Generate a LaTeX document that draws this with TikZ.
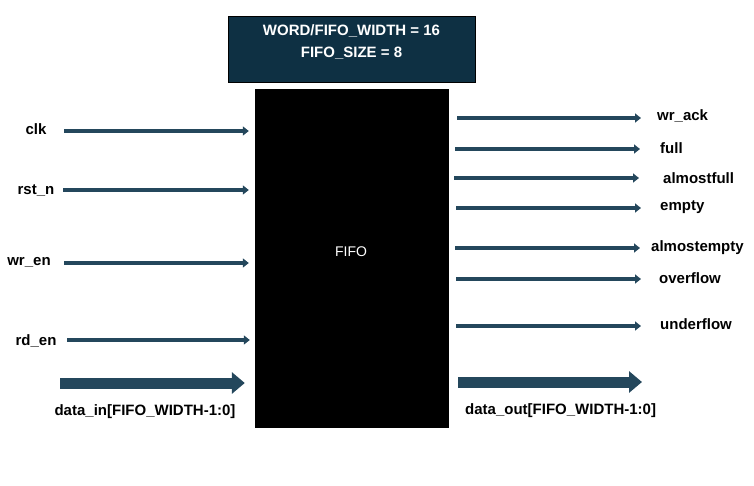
\documentclass[tikz,border=0pt]{standalone}
\usepackage{fontspec}
\setmainfont{Liberation Sans}
\usetikzlibrary{arrows.meta}
\definecolor{paramfill}{HTML}{0E3043}
\definecolor{sigblue}{HTML}{24475C}
\begin{document}
\begin{tikzpicture}[x=1pt, y=-1pt,
    sig/.style={line width=3.5pt, draw=sigblue, -{Triangle[length=6pt,width=9pt]}},
    bus/.style={line width=11pt, draw=sigblue, -{Triangle[length=13pt,width=21pt]}},
    lbl/.style={font=\bfseries\fontsize{15}{17}\selectfont, inner sep=0pt}]
    \useasboundingbox (0,0) rectangle (754,485);

    % parameter box and FIFO block
    \node[draw=black, fill=paramfill, minimum width=247pt, minimum height=66pt, inner sep=0pt] (params) at (351.5,49) {};
    \node[lbl, text=white, align=center] (paramtext) at (351.5,42) {WORD/FIFO\_WIDTH = 16\\[5pt]FIFO\_SIZE = 8};

    \node[fill=black, minimum width=194pt, minimum height=339pt, inner sep=0pt] (fifo) at (352,258.5) {};
    \node[text=white, font=\fontsize{14}{16}\selectfont] (fifoname) at (351,252) {FIFO};

    % inputs
    \node[lbl] (clk) at (36,129) {clk};
    \node[lbl] (rstn) at (36,191) {rst\_n};
    \node[lbl] (wren) at (29,262) {wr\_en};
    \node[lbl] (rden) at (36,341) {rd\_en};
    \node[lbl] (datain) at (145,412) {data\_in[FIFO\_WIDTH-1:0]};

    \coordinate (clkA) at (64,131);
    \coordinate (rstnA) at (63,190);
    \coordinate (wrenA) at (64,263);
    \coordinate (rdenA) at (67,340);
    \coordinate (datainA) at (60,383);

    \draw[sig] (clkA) -- ([xshift=-6pt]fifo.west |- clkA);
    \draw[sig] (rstnA) -- ([xshift=-6pt]fifo.west |- rstnA);
    \draw[sig] (wrenA) -- ([xshift=-6pt]fifo.west |- wrenA);
    \draw[sig] (rdenA) -- ([xshift=-5pt]fifo.west |- rdenA);
    \draw[bus] (datainA) -- ([xshift=-10pt]fifo.west |- datainA);

    % outputs
    \node[lbl, anchor=west] (wrack) at (657,116) {wr\_ack};
    \node[lbl, anchor=west] (full) at (660,148) {full};
    \node[lbl, anchor=west] (afull) at (663,178) {almostfull};
    \node[lbl, anchor=west] (empty) at (660,207) {empty};
    \node[lbl, anchor=west] (aempty) at (651,248) {almostempty};
    \node[lbl, anchor=west] (ovf) at (659,278) {overflow};
    \node[lbl, anchor=west] (unf) at (660,324) {underflow};
    \node[lbl, anchor=west] (dataout) at (465,411) {data\_out[FIFO\_WIDTH-1:0]};

    \coordinate (wrackB) at (641,118);
    \coordinate (fullB) at (640,149);
    \coordinate (afullB) at (639,178);
    \coordinate (emptyB) at (641,208);
    \coordinate (aemptyB) at (640,248);
    \coordinate (ovfB) at (641,279);
    \coordinate (unfB) at (641,326);
    \coordinate (dataoutB) at (642,382);

    \draw[sig] ([xshift=8pt]fifo.east |- wrackB) -- (wrackB);
    \draw[sig] ([xshift=6pt]fifo.east |- fullB) -- (fullB);
    \draw[sig] ([xshift=5pt]fifo.east |- afullB) -- (afullB);
    \draw[sig] ([xshift=7pt]fifo.east |- emptyB) -- (emptyB);
    \draw[sig] ([xshift=6pt]fifo.east |- aemptyB) -- (aemptyB);
    \draw[sig] ([xshift=7pt]fifo.east |- ovfB) -- (ovfB);
    \draw[sig] ([xshift=7pt]fifo.east |- unfB) -- (unfB);
    \draw[bus] ([xshift=9pt]fifo.east |- dataoutB) -- (dataoutB);

\end{tikzpicture}
\end{document}
